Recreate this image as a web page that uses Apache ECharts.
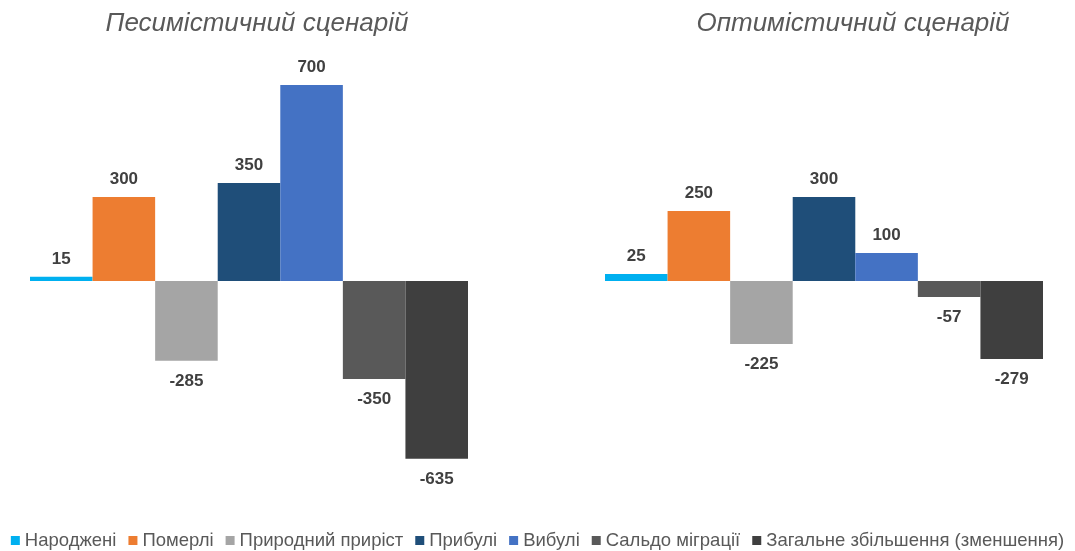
<!DOCTYPE html>
<html>
<head>
<meta charset="utf-8">
<script src="https://cdn.jsdelivr.net/npm/echarts@6/dist/echarts.min.js"></script>
<style>
  html, body { margin: 0; padding: 0; background: #fff; }
  #chart { width: 1075px; height: 551px; }
</style>
</head>
<body>
<div id="chart"></div>
<script>
const seriesNames = ['Народжені', 'Померлі', 'Природний приріст', 'Прибулі', 'Вибулі', 'Сальдо міграції', 'Загальне збільшення (зменшення)'];
const pessimistic = [15, 300, -285, 350, 700, -350, -635];
const optimistic = [25, 250, -225, 300, 100, -57, -279];
const scenarioTitles = ['Песимістичний сценарій', 'Оптимістичний сценарій'];

const colors = ['#00B0F0', '#ED7D31', '#A5A5A5', '#1F4E79', '#4472C4', '#595959', '#3F3F3F'];
const fontFamily = '"Liberation Sans", Arial, sans-serif';

const renderChart = () => {
  const chart = echarts.init(document.getElementById('chart'));

  const makeSeries = (values, axisIdx) => values.map((v, i) => ({
    name: seriesNames[i],
    type: 'bar',
    xAxisIndex: axisIdx,
    yAxisIndex: axisIdx,
    barGap: '0%',
    barCategoryGap: '0%',
    itemStyle: { color: colors[i] },
    label: {
      show: true,
      position: v >= 0 ? 'top' : 'bottom',
      distance: v >= 0 ? 9 : 12,
      color: '#404040',
      fontWeight: 'bold',
      fontSize: 17,
      fontFamily: fontFamily
    },
    data: [v]
  }));

  const yAxis = (idx) => ({
    type: 'value',
    gridIndex: idx,
    min: -700,
    max: 700,
    show: false,
    splitLine: { show: false }
  });
  const xAxis = (idx) => ({
    type: 'category',
    gridIndex: idx,
    data: [''],
    show: false
  });

  const titleStyle = { fontFamily: fontFamily, fontStyle: 'italic', fontWeight: 'normal', fontSize: 26, color: '#595959' };

  const option = {
    animation: false,
    title: [
      { text: scenarioTitles[0], left: 252, top: 6, textAlign: 'center', textStyle: titleStyle },
      { text: scenarioTitles[1], left: 848, top: 6, textAlign: 'center', textStyle: titleStyle }
    ],
    legend: {
      data: seriesNames,
      bottom: -4,
      left: 'center',
      icon: 'rect',
      itemWidth: 9,
      itemHeight: 9,
      itemGap: 12,
      textStyle: { fontFamily: fontFamily, fontSize: 18.5, color: '#595959' }
    },
    grid: [
      { left: 30, width: 438, top: 85, height: 392 },
      { left: 605, width: 438, top: 85, height: 392 }
    ],
    xAxis: [xAxis(0), xAxis(1)],
    yAxis: [yAxis(0), yAxis(1)],
    series: makeSeries(pessimistic, 0).concat(makeSeries(optimistic, 1))
  };

  chart.setOption(option);
};

document.addEventListener('DOMContentLoaded', renderChart);
</script>
</body>
</html>
